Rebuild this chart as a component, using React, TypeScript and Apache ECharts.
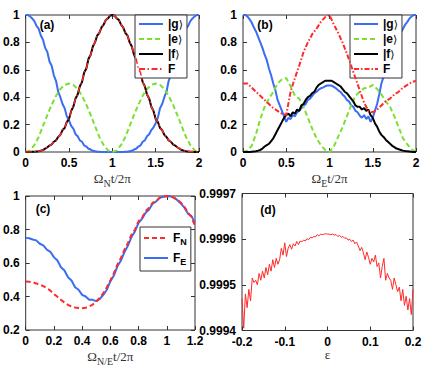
import React, { useEffect, useRef } from "react";
import * as echarts from "echarts";

// ---------- sample grids (abscissae) ----------
const seq = (start: number, step: number, n: number) =>
  Array.from({ length: n }, (_, i) => +(start + i * step).toFixed(4));
const tFine = seq(0, 0.025, 81); // 0..2
const tCoarse = seq(0, 0.05, 41); // 0..2
const tC = seq(0, 0.025, 49); // 0..1.2
const epsD = seq(-0.2, 0.004, 101); // -0.2..0.2

// ---------- panel (a) ----------
const gA = [1, 1, 0.99, 0.975, 0.955, 0.92, 0.9, 0.85, 0.82, 0.76,
  0.73, 0.66, 0.63, 0.56, 0.52, 0.44, 0.4, 0.35, 0.32, 0.26,
  0.23, 0.19, 0.17, 0.13, 0.115, 0.085, 0.075, 0.048, 0.04, 0.024,
  0.018, 0.009, 0.006, 0.002, 0.001, 0, 0, 0, 0, 0,
  0,
  0, 0, 0, 0, 0, 0.001, 0.002, 0.006, 0.009, 0.018,
  0.024, 0.04, 0.048, 0.075, 0.085, 0.115, 0.13, 0.16, 0.18, 0.21,
  0.25, 0.32, 0.35, 0.4, 0.44, 0.52, 0.56, 0.63, 0.66, 0.73,
  0.76, 0.82, 0.85, 0.9, 0.92, 0.955, 0.975, 0.99, 1, 1];
const eA = [0, 0.012, 0.05, 0.11, 0.19, 0.27, 0.345, 0.41, 0.46, 0.49,
  0.5, 0.49, 0.46, 0.41, 0.345, 0.27, 0.19, 0.11, 0.05, 0.012,
  0,
  0.012, 0.05, 0.11, 0.19, 0.27, 0.345, 0.41, 0.46, 0.49, 0.5,
  0.49, 0.46, 0.41, 0.345, 0.27, 0.19, 0.11, 0.05, 0.012, 0];
const fA = [0, 0, 0, 0.001, 0.002, 0.004, 0.006, 0.01, 0.014, 0.024,
  0.035, 0.047, 0.056, 0.075, 0.085, 0.11, 0.125, 0.16, 0.175, 0.22,
  0.24, 0.3, 0.33, 0.39, 0.42, 0.48, 0.51, 0.58, 0.61, 0.68,
  0.71, 0.77, 0.8, 0.85, 0.87, 0.91, 0.93, 0.965, 0.975, 0.995,
  1,
  0.995, 0.975, 0.965, 0.93, 0.91, 0.87, 0.85, 0.8, 0.77, 0.71,
  0.68, 0.61, 0.58, 0.51, 0.48, 0.42, 0.39, 0.33, 0.3, 0.24,
  0.22, 0.175, 0.16, 0.125, 0.11, 0.085, 0.075, 0.056, 0.047, 0.035,
  0.024, 0.014, 0.01, 0.006, 0.004, 0.002, 0.001, 0, 0, 0];
const FA = fA; // fidelity coincides with |f> population in (a)

// ---------- panel (b) ----------
const gB = [1, 1, 0.99, 0.97, 0.945, 0.91, 0.88, 0.84, 0.8, 0.76,
  0.71, 0.67, 0.61, 0.56, 0.5, 0.45, 0.38, 0.34, 0.3, 0.26,
  0.22, 0.25, 0.24, 0.27, 0.26, 0.29, 0.3, 0.32, 0.34, 0.35,
  0.38, 0.39, 0.41, 0.43, 0.44, 0.455, 0.465, 0.47, 0.48, 0.485,
  0.485,
  0.485, 0.475, 0.465, 0.45, 0.44, 0.42, 0.405, 0.38, 0.37, 0.34,
  0.33, 0.3, 0.29, 0.265, 0.25, 0.27, 0.24, 0.26, 0.22, 0.25,
  0.3, 0.35, 0.42, 0.5, 0.55, 0.6, 0.64, 0.69, 0.72, 0.77,
  0.8, 0.84, 0.87, 0.9, 0.93, 0.95, 0.975, 0.99, 1, 1];
const eB = [0, 0.01, 0.045, 0.13, 0.24, 0.33, 0.39, 0.44, 0.5, 0.53,
  0.54, 0.48, 0.41, 0.39, 0.33, 0.25, 0.17, 0.1, 0.05, 0.015,
  0,
  0.04, 0.11, 0.18, 0.26, 0.34, 0.41, 0.44, 0.465, 0.47, 0.49,
  0.46, 0.42, 0.37, 0.33, 0.26, 0.18, 0.1, 0.055, 0.02, 0];
const fB = [0, 0, 0, 0, 0.002, 0.004, 0.006, 0.01, 0.015, 0.025,
  0.04, 0.05, 0.06, 0.08, 0.1, 0.13, 0.16, 0.19, 0.22, 0.25,
  0.27, 0.28, 0.26, 0.29, 0.28, 0.31, 0.3, 0.34, 0.35, 0.38,
  0.4, 0.41, 0.43, 0.44, 0.47, 0.49, 0.5, 0.51, 0.52, 0.52,
  0.52,
  0.52, 0.51, 0.5, 0.49, 0.48, 0.46, 0.44, 0.43, 0.41, 0.39,
  0.37, 0.34, 0.33, 0.33, 0.31, 0.32, 0.3, 0.31, 0.27, 0.25,
  0.21, 0.185, 0.15, 0.125, 0.11, 0.09, 0.075, 0.06, 0.045, 0.035,
  0.025, 0.02, 0.015, 0.01, 0.007, 0.005, 0.003, 0.001, 0, 0];
const FB = [0.5, 0.5, 0.47, 0.44, 0.41, 0.38, 0.35, 0.32, 0.3, 0.28,
  0.27, 0.44, 0.54, 0.63, 0.73, 0.8, 0.86, 0.9, 0.95, 0.985,
  1,
  0.93, 0.87, 0.8, 0.72, 0.63, 0.54, 0.45, 0.36, 0.3, 0.29,
  0.31, 0.34, 0.37, 0.39, 0.42, 0.44, 0.47, 0.49, 0.51, 0.52];

// ---------- panel (c) ----------
const FN = [0.49, 0.488, 0.485, 0.478, 0.47, 0.462, 0.45, 0.435, 0.415, 0.398,
  0.38, 0.364, 0.35, 0.34, 0.335, 0.332, 0.33, 0.333, 0.34, 0.352,
  0.37, 0.392, 0.42, 0.455, 0.495, 0.54, 0.59, 0.63, 0.68, 0.72,
  0.77, 0.8, 0.85, 0.87, 0.91, 0.93, 0.96, 0.97, 0.99, 0.995,
  1, 0.997, 0.99, 0.978, 0.96, 0.935, 0.9, 0.875, 0.82];
const FE = [0.75, 0.748, 0.74, 0.735, 0.715, 0.705, 0.68, 0.667, 0.635, 0.615,
  0.575, 0.555, 0.515, 0.495, 0.455, 0.44, 0.41, 0.4, 0.38, 0.38,
  0.372, 0.385, 0.41, 0.44, 0.49, 0.525, 0.58, 0.615, 0.665, 0.705,
  0.755, 0.79, 0.84, 0.865, 0.9, 0.92, 0.955, 0.968, 0.99, 0.995,
  1, 0.998, 0.99, 0.975, 0.955, 0.93, 0.895, 0.88, 0.84];

// ---------- panel (d) ----------
const FD = [0.99947, 0.999405, 0.99948, 0.99945, 0.99949, 0.999465, 0.999515, 0.999505, 0.99951, 0.9995,
  0.999525, 0.99951, 0.99953, 0.999515, 0.999538, 0.999522, 0.999545, 0.99953, 0.999555, 0.999538,
  0.999558, 0.999545, 0.999555, 0.99958, 0.999565, 0.999592, 0.999562, 0.99958, 0.999588, 0.999578,
  0.99959, 0.999585, 0.999595, 0.999588, 0.999596, 0.999594, 0.999598, 0.999596, 0.999601, 0.999599,
  0.999604, 0.999603, 0.999606, 0.999605, 0.99961, 0.999607, 0.999611, 0.99961, 0.999611, 0.999612,
  0.999611, 0.999611, 0.99961, 0.999611, 0.999609, 0.99961, 0.999606, 0.999608, 0.999604, 0.999606,
  0.999602, 0.999603, 0.999598, 0.9996, 0.999595, 0.999598, 0.99959, 0.999594, 0.999585, 0.999575,
  0.999582, 0.99957, 0.999555, 0.999572, 0.99956, 0.999545, 0.999558, 0.99955, 0.999565, 0.99954,
  0.999548, 0.999515, 0.99954, 0.999558, 0.99951, 0.999525, 0.999515, 0.99951, 0.99949, 0.999515,
  0.9995, 0.999485, 0.999495, 0.999465, 0.99949, 0.999455, 0.999475, 0.999445, 0.99947, 0.999435,
  0.99949];

const pairs = (xs: number[], ys: number[]) => ys.map((y, i) => [xs[i], y]);

const BLUE = "#3a6cf4";
const GREEN = "#7be030";
const RED = "#ff2a2a";
const SANS = "Liberation Sans, Arial, sans-serif";
const SERIF = "Liberation Serif, Times New Roman, serif";

const grids = [
  { left: 25, top: 15, width: 174, height: 137 },
  { left: 243, top: 15, width: 173, height: 137 },
  { left: 20, top: 196, width: 175, height: 134 },
  { left: 242, top: 193.5, width: 171, height: 137 },
];
const xr = [
  { min: 0, max: 2, interval: 0.5 },
  { min: 0, max: 2, interval: 0.5 },
  { min: 0, max: 1.2, interval: 0.2 },
  { min: -0.2, max: 0.2, interval: 0.1 },
];
const yr = [
  { min: 0, max: 1, interval: 0.2 },
  { min: 0, max: 1, interval: 0.2 },
  { min: 0.2, max: 1, interval: 0.2 },
  { min: 0.9994, max: 0.9997, interval: 0.0001 },
];
const xNames = [
  "{o|Ω}{s|N}{o|t/2π}",
  "{o|Ω}{s|E}{o|t/2π}",
  "{o|Ω}{s|N/E}{o|t/2π}",
  "{o|ε}",
];

const tickLabel = {
  fontFamily: SANS,
  fontWeight: "bold" as const,
  fontSize: 12,
  color: "#000",
};
const tick = { show: true, inside: true, length: 4, lineStyle: { color: "#333", width: 1 } };
const noLine = { show: false, onZero: false };

function buildOption() {
  const xAxis: any[] = [];
  const yAxis: any[] = [];
  for (let i = 0; i < 4; i++) {
    xAxis.push({
      type: "value",
      gridIndex: i,
      position: "bottom",
      ...xr[i],
      axisLine: noLine,
      axisTick: tick,
      splitLine: { show: false },
      axisLabel: { ...tickLabel, margin: 5, formatter: (v: number) => String(+v.toFixed(2)) },
      name: xNames[i],
      nameLocation: "middle",
      nameGap: 17,
      nameTextStyle: {
        rich: {
          o: { fontFamily: SERIF, fontSize: 13, color: "#333" },
          s: { fontFamily: SERIF, fontSize: 10, color: "#333", padding: [9, 0, 0, 0] },
        },
      },
    });
    yAxis.push({
      type: "value",
      gridIndex: i,
      position: "left",
      ...yr[i],
      axisLine: noLine,
      axisTick: tick,
      splitLine: { show: false },
      axisLabel: {
        ...tickLabel,
        margin: 6,
        formatter: (v: number) => (i === 3 ? v.toFixed(4) : String(+v.toFixed(2))),
      },
    });
  }
  for (let i = 0; i < 4; i++) {
    xAxis.push({
      type: "value",
      gridIndex: i,
      position: "top",
      ...xr[i],
      axisLine: noLine,
      axisTick: tick,
      splitLine: { show: false },
      axisLabel: { show: false },
    });
    yAxis.push({
      type: "value",
      gridIndex: i,
      position: "right",
      ...yr[i],
      axisLine: noLine,
      axisTick: tick,
      splitLine: { show: false },
      axisLabel: { show: false },
    });
  }

  const line = (name: string, gi: number, data: number[][], color: string, width: number, type: any, z = 2) => ({
    type: "line",
    name,
    xAxisIndex: gi,
    yAxisIndex: gi,
    data,
    symbol: "none",
    z,
    lineStyle: { color, width, type },
    itemStyle: { color },
  });

  const series = [
    line("gA", 0, pairs(tFine, gA), BLUE, 2, "solid"),
    line("eA", 0, pairs(tCoarse, eA), GREEN, 2, [5, 3]),
    line("fA", 0, pairs(tFine, fA), "#000", 2, "solid", 3),
    line("FA", 0, pairs(tFine, FA), RED, 1.5, [6, 2.5, 1.5, 2.5], 4),
    line("gB", 1, pairs(tFine, gB), BLUE, 2, "solid"),
    line("eB", 1, pairs(tCoarse, eB), GREEN, 2, [5, 3]),
    line("fB", 1, pairs(tFine, fB), "#000", 2, "solid", 3),
    line("FB", 1, pairs(tCoarse, FB), RED, 2, [5, 2, 1.5, 2], 4),
    line("FN", 2, pairs(tC, FN), RED, 2, [5, 3], 3),
    line("FE", 2, pairs(tC, FE), BLUE, 2, "solid", 2),
    line("FD", 3, pairs(epsD, FD), RED, 1, "solid"),
  ];

  const legendLabels: Record<string, string> = {
    gA: "{b||g}{k|⟩}", eA: "{b||e}{k|⟩}", fA: "{b||f}{k|⟩}", FA: "{b|F}",
    gB: "{b||g}{k|⟩}", eB: "{b||e}{k|⟩}", fB: "{b||f}{k|⟩}", FB: "{b|F}",
    FN: "{b|F}{s|N}", FE: "{b|F}{s|E}",
  };
  const legendText = {
    rich: {
      b: { fontFamily: SANS, fontWeight: "bold" as const, fontSize: 12, color: "#000" },
      k: { fontFamily: "DejaVu Sans", fontSize: 11, color: "#000" },
      s: { fontFamily: SANS, fontWeight: "bold" as const, fontSize: 9, color: "#000", padding: [7, 0, 0, 0] },
    },
  };
  const legendBase = {
    orient: "vertical",
    backgroundColor: "#fff",
    borderColor: "#333",
    borderWidth: 1,
    borderRadius: 0,
    itemWidth: 24,
    itemHeight: 12,
    itemStyle: { opacity: 0 },
    selectedMode: false,
    formatter: (n: string) => legendLabels[n],
    textStyle: legendText,
  };
  const legend = [
    { ...legendBase, left: 135, top: 15, padding: [3, 4, 3, 3], itemGap: 3, data: ["gA", "eA", "fA", "FA"] },
    { ...legendBase, left: 350, top: 15, padding: [3, 4, 3, 3], itemGap: 3, data: ["gB", "eB", "fB", "FB"] },
    { ...legendBase, left: 140, top: 227, padding: [5, 4, 5, 3], itemGap: 6, data: ["FN", "FE"] },
  ];

  const lab = (text: string, x: number, y: number) => ({
    type: "text",
    x,
    y,
    style: { text, fill: "#000", font: `bold 12px ${SANS}`, textAlign: "center", textVerticalAlign: "middle" },
  });

  return {
    animation: false,
    backgroundColor: "#fff",
    grid: grids.map((g) => ({ ...g, show: true, borderColor: "#333", borderWidth: 1, backgroundColor: "transparent" })),
    xAxis,
    yAxis,
    legend,
    series,
    graphic: [lab("(a)", 47, 25), lab("(b)", 265, 25), lab("(c)", 43, 209), lab("(d)", 268, 210)],
  };
}

export default function App() {
  const ref = useRef<HTMLDivElement>(null);
  useEffect(() => {
    if (!ref.current) return;
    const chart = echarts.init(ref.current, undefined, { renderer: "svg" });
    chart.setOption(buildOption() as any);
    return () => chart.dispose();
  }, []);
  return <div ref={ref} style={{ position: "fixed", left: 0, top: 0, width: 436, height: 368 }} />;
}
